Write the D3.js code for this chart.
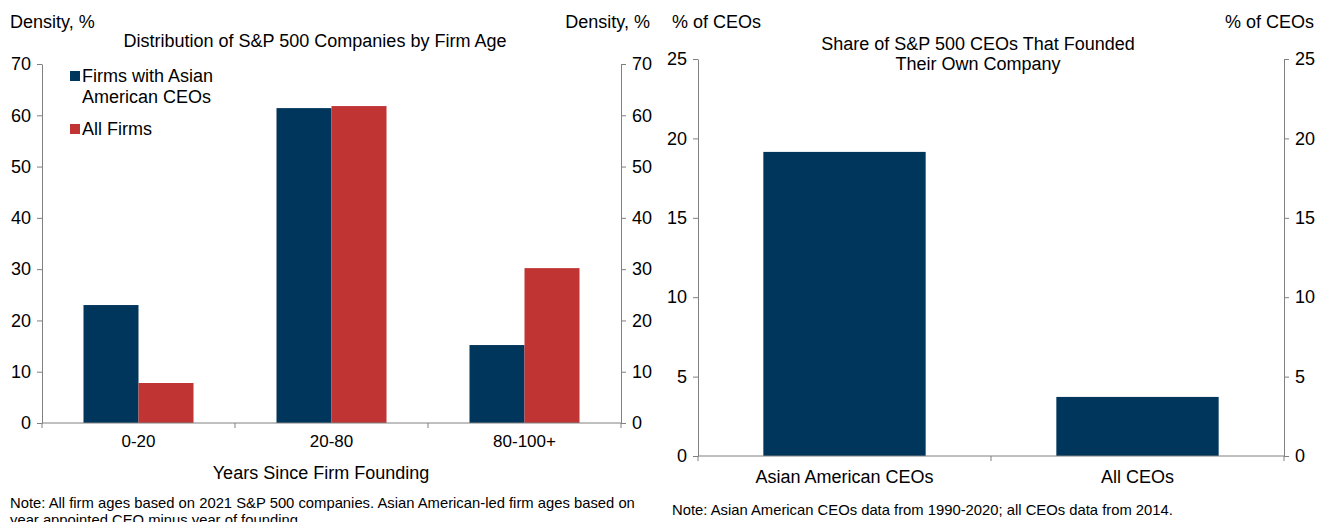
<!DOCTYPE html>
<html>
<head>
<meta charset="utf-8">
<script src="https://cdn.jsdelivr.net/npm/d3@7"></script>
<style>
  body { margin: 0; background: #fff; }
  svg text { font-family: "Liberation Sans", Arial, sans-serif; fill: #000; }
</style>
</head>
<body>
<div id="chart"></div>
<script>
// data
const ageGroups = ["0-20", "20-80", "80-100+"];
const asianFirms = [23.0, 61.4, 15.2];
const allFirms = [7.8, 61.8, 30.2];
const densityTicks = [0, 10, 20, 30, 40, 50, 60, 70];

const ceoGroups = ["Asian American CEOs", "All CEOs"];
const founderShare = [19.15, 3.72];
const ceoTicks = [0, 5, 10, 15, 20, 25];

const navy = "#00355c", red = "#c03434", axisColor = "#808080";
const fs = "18px", noteFs = "14.8px";

const svg = d3.select("#chart")
    .append("svg")
    .attr("width", 1325)
    .attr("height", 522);

function styleAxis(g) {
    g.selectAll("path, line").attr("stroke", axisColor);
    g.selectAll("text").style("font-size", fs).attr("fill", "#000");
}

// ---------- left panel: grouped bars ----------
const L = { left: 42, right: 621, top: 64, bottom: 423 };

const x0 = d3.scaleBand()
    .domain(ageGroups)
    .range([L.left, L.right])
    .paddingInner(0.43)
    .paddingOuter(0.215);
const x1 = d3.scaleBand()
    .domain(["asian", "all"])
    .range([0, x0.bandwidth()]);
const yL = d3.scaleLinear().domain([0, 70]).range([L.bottom, L.top]);

const rows = ageGroups.map((g, i) => ({ group: g, asian: asianFirms[i], all: allFirms[i] }));

const gL = svg.append("g");
gL.selectAll("g.grp")
    .data(rows)
    .join("g")
    .attr("class", "grp")
    .attr("transform", d => `translate(${x0(d.group)},0)`)
    .selectAll("rect")
    .data(d => [{ key: "asian", v: d.asian }, { key: "all", v: d.all }])
    .join("rect")
    .attr("x", d => x1(d.key))
    .attr("width", x1.bandwidth())
    .attr("y", d => yL(d.v))
    .attr("height", d => yL(0) - yL(d.v))
    .attr("fill", d => d.key === "asian" ? navy : red);

gL.append("g")
    .attr("transform", `translate(${L.left},0)`)
    .call(d3.axisLeft(yL).tickValues(densityTicks).tickSize(5).tickSizeOuter(0).tickPadding(6))
    .call(styleAxis);
gL.append("g")
    .attr("transform", `translate(${L.right},0)`)
    .call(d3.axisRight(yL).tickValues(densityTicks).tickSize(5).tickSizeOuter(0).tickPadding(6))
    .call(styleAxis);

// x axis: ticks at category boundaries, labels centred
const xAxisL = gL.append("g").attr("transform", `translate(0,${L.bottom})`);
xAxisL.append("line").attr("x1", L.left).attr("x2", L.right).attr("stroke", axisColor);
const boundsL = ageGroups.map(g => x0(g) - x0.step() * x0.paddingOuter()).concat([L.right]);
xAxisL.selectAll("line.tk").data(boundsL).join("line")
    .attr("class", "tk").attr("x1", d => d).attr("x2", d => d).attr("y1", 0).attr("y2", 5)
    .attr("stroke", axisColor);
xAxisL.selectAll("text").data(ageGroups).join("text")
    .attr("x", d => x0(d) + x0.bandwidth() / 2).attr("y", 24)
    .attr("text-anchor", "middle").style("font-size", "17px").text(d => d);

svg.append("text").attr("x", 10).attr("y", 28).style("font-size", fs).text("Density, %");
svg.append("text").attr("x", 650).attr("y", 28).attr("text-anchor", "end").style("font-size", fs).text("Density, %");
svg.append("text").attr("x", 315).attr("y", 47).attr("text-anchor", "middle").style("font-size", fs)
    .text("Distribution of S&P 500 Companies by Firm Age");
svg.append("text").attr("x", 321).attr("y", 479).attr("text-anchor", "middle").style("font-size", fs)
    .text("Years Since Firm Founding");

// legend
const legend = [
    { color: navy, lines: ["Firms with Asian", "American CEOs"], y: 82 },
    { color: red, lines: ["All Firms"], y: 135 }
];
const lg = svg.append("g").selectAll("g").data(legend).join("g");
lg.append("rect").attr("x", 70).attr("y", d => d.y - 11).attr("width", 10).attr("height", 10).attr("fill", d => d.color);
lg.append("text").attr("x", 82).attr("y", d => d.y).style("font-size", fs)
    .selectAll("tspan").data(d => d.lines).join("tspan")
    .attr("x", 82).attr("dy", (d, i) => i === 0 ? 0 : 21).text(d => d);

svg.append("text").attr("x", 10).attr("y", 508).style("font-size", noteFs)
    .text("Note: All firm ages based on 2021 S&P 500 companies. Asian American-led firm ages based on");
svg.append("text").attr("x", 10).attr("y", 525).style("font-size", noteFs)
    .text("year appointed CEO minus year of founding.");

// ---------- right panel: simple bars ----------
const R = { left: 698, right: 1284, top: 59, bottom: 456 };

const xR = d3.scaleBand()
    .domain(ceoGroups)
    .range([R.left, R.right])
    .paddingInner(0.446)
    .paddingOuter(0.223);
const yR = d3.scaleLinear().domain([0, 25]).range([R.bottom, R.top]);

const gR = svg.append("g");
gR.selectAll("rect")
    .data(ceoGroups.map((g, i) => ({ group: g, v: founderShare[i] })))
    .join("rect")
    .attr("x", d => xR(d.group))
    .attr("width", xR.bandwidth())
    .attr("y", d => yR(d.v))
    .attr("height", d => yR(0) - yR(d.v))
    .attr("fill", navy);

gR.append("g")
    .attr("transform", `translate(${R.left},0)`)
    .call(d3.axisLeft(yR).tickValues(ceoTicks).tickSize(5).tickSizeOuter(0).tickPadding(6))
    .call(styleAxis);
gR.append("g")
    .attr("transform", `translate(${R.right},0)`)
    .call(d3.axisRight(yR).tickValues(ceoTicks).tickSize(5).tickSizeOuter(0).tickPadding(6))
    .call(styleAxis);

const xAxisR = gR.append("g").attr("transform", `translate(0,${R.bottom})`);
xAxisR.append("line").attr("x1", R.left).attr("x2", R.right).attr("stroke", axisColor);
const boundsR = ceoGroups.map(g => xR(g) - xR.step() * xR.paddingOuter()).concat([R.right]);
xAxisR.selectAll("line.tk").data(boundsR).join("line")
    .attr("class", "tk").attr("x1", d => d).attr("x2", d => d).attr("y1", 0).attr("y2", 5)
    .attr("stroke", axisColor);
xAxisR.selectAll("text").data(ceoGroups).join("text")
    .attr("x", d => xR(d) + xR.bandwidth() / 2).attr("y", 27)
    .attr("text-anchor", "middle").style("font-size", fs).text(d => d);

svg.append("text").attr("x", 672).attr("y", 28).style("font-size", fs).text("% of CEOs");
svg.append("text").attr("x", 1314).attr("y", 28).attr("text-anchor", "end").style("font-size", fs).text("% of CEOs");
svg.append("text").attr("x", 978).attr("y", 50).attr("text-anchor", "middle").style("font-size", fs)
    .text("Share of S&P 500 CEOs That Founded");
svg.append("text").attr("x", 978).attr("y", 70).attr("text-anchor", "middle").style("font-size", fs)
    .text("Their Own Company");

svg.append("text").attr("x", 672).attr("y", 515).style("font-size", noteFs)
    .text("Note: Asian American CEOs data from 1990-2020; all CEOs data from 2014.");
</script>
</body>
</html>
